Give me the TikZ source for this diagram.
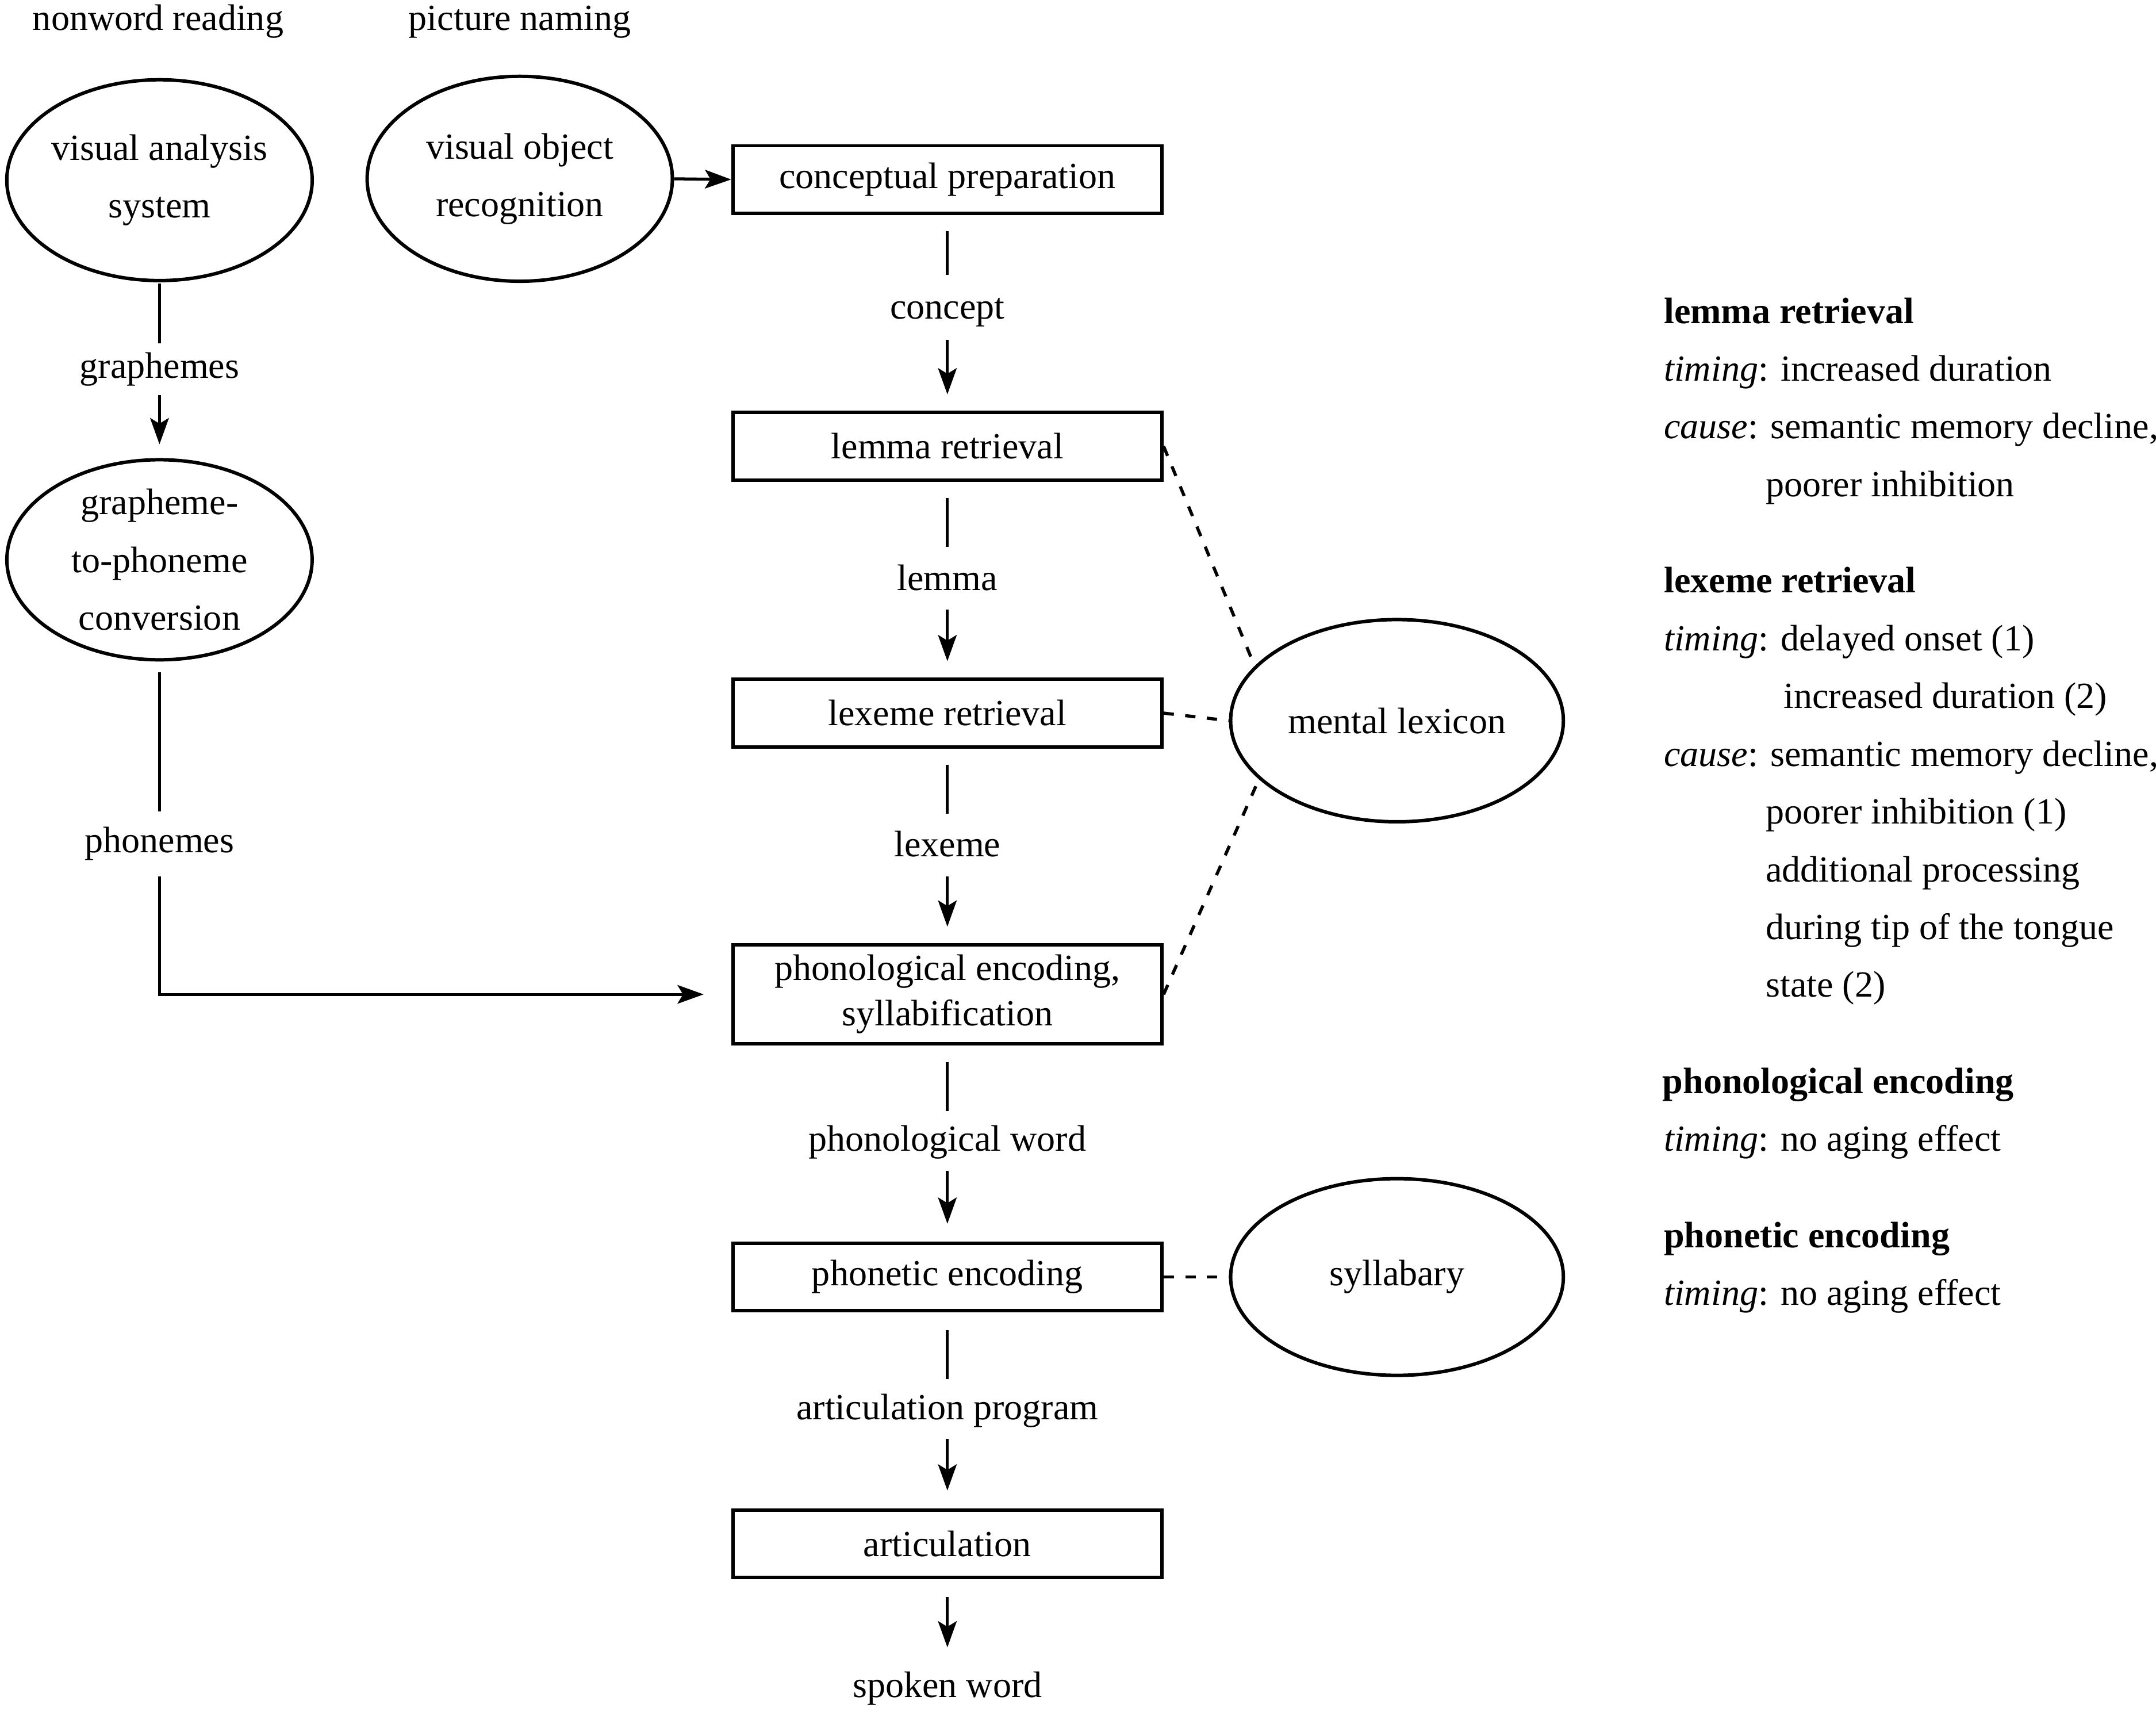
\documentclass[tikz,border=0pt]{standalone}
\usepackage{fontspec}
\setmainfont{Liberation Serif}
\usetikzlibrary{arrows.meta,shapes.geometric}
\begin{document}
\begin{tikzpicture}[x=1pt,y=-1pt,
  every node/.style={font=\fontsize{26.8}{42}\selectfont},
  box/.style={draw,line width=2.5pt,minimum width=312pt,minimum height=49pt,inner sep=0pt},
  ell/.style={draw,ellipse,line width=2.5pt,inner sep=0pt,align=center},
  lab/.style={inner sep=0pt,text height=18pt,text depth=6pt},
  conn/.style={line width=2.2pt},
  arr/.style={line width=2.2pt,-{Stealth[length=19pt,width=13.5pt,inset=4pt]}},
  dline/.style={line width=2.3pt,dash pattern=on 7.5pt off 8.3pt},
  txt/.style={anchor=base west,inner sep=0pt}
]
\useasboundingbox (0,0) rectangle (1568,1244.39);
% top labels
\node[lab] (nr) at (115,16) {nonword reading};
\node[lab] (pn) at (378,16) {picture naming};
% ellipses
\node[ell,minimum width=222pt,minimum height=146pt] (vas) at (116,131) {visual analysis\\system};
\node[ell,minimum width=222pt,minimum height=149pt] (vor) at (378,130) {visual object\\recognition};
\node[ell,minimum width=222pt,minimum height=145pt] (g2p) at (116,407) {grapheme-\\to-phoneme\\conversion};
\node[ell,minimum width=242pt,minimum height=147pt] (ml) at (1016,524) {mental lexicon};
\node[ell,minimum width=242pt,minimum height=143pt] (syl) at (1016,928.5) {syllabary};
% boxes
\node[box] (cp) at (689,130.5) {conceptual preparation};
\node[box] (lr) at (689,324.5) {lemma retrieval};
\node[box] (lx) at (689,518.5) {lexeme retrieval};
\node[box,minimum height=72pt,align=center,font=\fontsize{26.8}{33}\selectfont] (pe) at (689,723) {phonological encoding,\\syllabification};
\node[box] (phe) at (689,928.5) {phonetic encoding};
\node[box] (art) at (689,1122.5) {articulation};
% labels
\node[lab] (concept) at (689,226) {concept};
\node[lab] (lemma) at (689,423) {lemma};
\node[lab] (lexeme) at (689,617) {lexeme};
\node[lab] (pw) at (689,831) {phonological word};
\node[lab] (ap) at (689,1026) {articulation program};
\node[lab] (sw) at (689,1228) {spoken word};
\node[lab] (graph) at (116,269) {graphemes};
\node[lab] (phon) at (116,614) {phonemes};
% main chain
\draw[arr] (vor.east) -- (cp.west);
\draw[conn,shorten <=12pt,shorten >=14pt] (cp) -- (concept);
\draw[arr,shorten <=9pt,shorten >=12pt] (concept) -- (lr);
\draw[conn,shorten <=12pt,shorten >=13pt] (lr) -- (lemma);
\draw[arr,shorten <=8pt,shorten >=12pt] (lemma) -- (lx);
\draw[conn,shorten <=12pt,shorten >=13pt] (lx) -- (lexeme);
\draw[arr,shorten <=8pt,shorten >=12pt] (lexeme) -- (pe);
\draw[conn,shorten <=12pt,shorten >=11pt] (pe) -- (pw);
\draw[arr,shorten <=8pt,shorten >=13pt] (pw) -- (phe);
\draw[conn,shorten <=13pt,shorten >=11pt] (phe) -- (ap);
\draw[arr,shorten <=8pt,shorten >=13pt] (ap) -- (art);
\draw[arr,shorten <=13pt,shorten >=18pt] (art) -- (sw);
% left column
\draw[conn,shorten <=1pt,shorten >=7pt] (vas) -- (graph);
\draw[arr,shorten <=6pt,shorten >=10pt] (graph) -- (g2p);
\draw[conn,shorten <=8pt,shorten >=12pt] (g2p) -- (phon);
\draw[arr,shorten <=11pt,shorten >=20pt] (phon) |- (pe.west);
% dashed links
\draw[dline] (lr.east) -- (ml.159);
\draw[dline] (lx.east) -- (ml.west);
\draw[dline] (pe.east) -- (ml.203);
\draw[dline] (phe.east) -- (syl.west);
% right text
\node[txt] (t1) at (1210,235) {\textbf{lemma retrieval}};
\node[txt] (t2) at (1210,277) {\textit{timing}: increased duration};
\node[txt] (t3) at (1210,319) {\textit{cause}: semantic memory decline,};
\node[txt] (t4) at (1284,361) {poorer inhibition};
\node[txt] (t5) at (1210,431) {\textbf{lexeme retrieval}};
\node[txt] (t6) at (1210,473) {\textit{timing}: delayed onset (1)};
\node[txt] (t7) at (1297,515) {increased duration (2)};
\node[txt] (t8) at (1210,557) {\textit{cause}: semantic memory decline,};
\node[txt] (t9) at (1284,599) {poorer inhibition (1)};
\node[txt] (t10) at (1284,641) {additional processing};
\node[txt] (t11) at (1284,683) {during tip of the tongue};
\node[txt] (t12) at (1284,725) {state (2)};
\node[txt] (t13) at (1209,795) {\textbf{phonological encoding}};
\node[txt] (t14) at (1210,837) {\textit{timing}: no aging effect};
\node[txt] (t15) at (1210,907) {\textbf{phonetic encoding}};
\node[txt] (t16) at (1210,949) {\textit{timing}: no aging effect};
\end{tikzpicture}
\end{document}
